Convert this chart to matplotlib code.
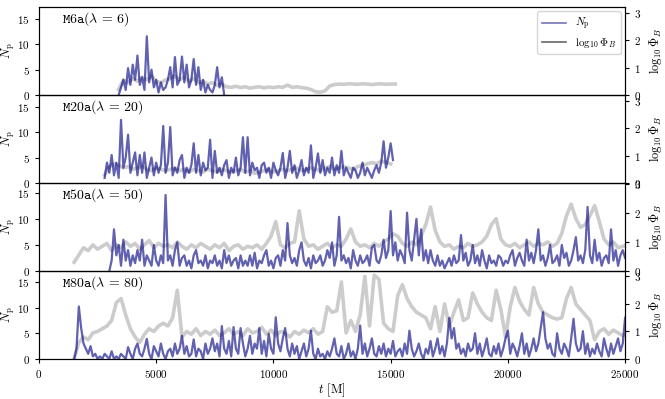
import matplotlib
matplotlib.use("Agg")
import matplotlib.pyplot as plt
from matplotlib.lines import Line2D
import numpy as np

plt.rcParams['font.family'] = 'serif'
plt.rcParams['font.serif'] = ['cmr10']
plt.rcParams['mathtext.fontset'] = 'cm'
plt.rcParams['axes.formatter.use_mathtext'] = True
plt.rcParams['axes.unicode_minus'] = False

# run labels
runs = [r'$\mathtt{M6a}(\lambda\,=\,6)$', r'$\mathtt{M20a}(\lambda\,=\,20)$',
        r'$\mathtt{M50a}(\lambda\,=\,50)$', r'$\mathtt{M80a}(\lambda\,=\,80)$']

# N_p, sampled every 100 M from the start time
np_start = [3400, 2800, 3000, 1500]
np_m6a = [0, 1.5, 3, 1, 5.3, 2, 6, 3, 7.8, 2,
          3.5, 1, 11.6, 2.5, 5, 1.5, 3, 0.5, 2.5, 1,
          1.5, 3, 5.5, 1.5, 7.5, 2, 3, 7.6, 2.5, 6,
          1.5, 3, 7.1, 2, 5.5, 1, 3, 0.5, 2, 1,
          0.5, 2, 5.5, 1.5, 3.5, 0]
np_m20a = [1, 4, 2, 5.5, 1.5, 4, 1, 12.4, 3, 5,
           9.5, 2, 4, 6, 1.5, 5.5, 2, 6, 1, 3,
           5, 1.5, 4, 2, 3.5, 11.2, 2, 4, 11, 1.5,
           3, 2, 4.5, 5.5, 1, 3, 2, 3.5, 7.8, 2,
           5.5, 1.5, 4, 2.5, 3, 8.5, 1, 6.3, 2, 3,
           1.5, 3.5, 4.5, 1, 3, 2, 5, 1.5, 3, 9,
           2, 9, 1.5, 4, 2.5, 3, 1, 3.5, 4, 2,
           3, 1, 4, 2.5, 1.5, 3, 5.9, 1, 3, 6.3,
           2, 3.5, 1, 2.5, 4.5, 1.5, 3, 2, 7.4, 1,
           3, 5.8, 2, 4.5, 1.5, 3, 2, 5, 1.5, 3.5,
           2, 6.3, 1.5, 3, 2, 1, 3, 2.5, 1, 2,
           4, 1.5, 3, 2, 1, 2.5, 3.5, 2, 4, 8.2,
           3, 5, 7.8, 4.5]
np_m50a = [0, 2, 8, 3, 5, 1, 6, 2, 4, 1,
           3, 1.5, 4, 2, 6, 1, 3, 2, 1, 5,
           2, 1, 3, 1.5, 14.6, 2, 3, 1, 4, 5.5,
           1, 2.5, 3, 1, 2, 0.5, 3, 4, 1.5, 2,
           1, 3, 0.5, 2, 1.5, 3, 1, 2, 0.5, 4,
           1.5, 3, 1, 2, 2.5, 0.5, 3, 1, 2, 1,
           3, 1, 3.5, 0.5, 2, 1.5, 3, 4, 1, 2,
           0.5, 2.5, 3, 1, 4, 2, 9.2, 3, 1.5, 2.5,
           1, 4, 5.5, 2, 1, 2.5, 0.5, 3, 1.5, 2,
           3, 1, 2, 4, 2.5, 5.5, 1, 3, 10.4, 2,
           3, 1.5, 2.5, 0.5, 4, 2, 1, 3, 1.5, 2,
           3, 1, 4.5, 5, 2, 1.5, 3, 6, 2.5, 4,
           11.5, 3, 5.5, 2, 4, 3, 1.5, 11.2, 4, 2,
           6, 10, 3, 8, 2, 4, 1.5, 4, 2, 1,
           3, 1, 2, 0.5, 1.5, 2.5, 1, 3, 1.5, 2,
           6.9, 2, 3.5, 1, 2, 5, 1.5, 3, 1, 4,
           2, 0.5, 3, 1.5, 2, 1, 3, 2.5, 1, 2,
           1.5, 3, 4, 1, 2.5, 3.5, 2, 1, 6, 2,
           3.5, 1.5, 4, 8, 2, 3, 1, 2.5, 5, 1.5,
           2, 3, 1, 5, 2.5, 3.5, 1, 2, 4, 6.5,
           2, 3, 1.5, 4, 12.3, 3, 1.5, 6, 2, 3.5,
           1, 2.5, 3, 1.5, 8, 2, 4, 1, 3, 4,
           2.5]
np_m80a = [0, 2, 10.2, 6, 3, 2, 1, 2.5, 0.5, 1,
           0, 0.5, 0, 1, 0.5, 0, 1.5, 0, 0.5, 0,
           1, 0.5, 0, 2.3, 1, 0, 2, 3, 1, 0.5,
           2, 3.9, 1, 0, 2.5, 1.5, 0.5, 3, 1, 0,
           1.5, 2, 0.5, 3, 1, 2, 4.5, 1, 2.5, 0.5,
           1, 3.8, 0.5, 2, 1.5, 0, 3, 1, 2, 4,
           1.5, 3, 0.5, 6.4, 2, 1, 3.5, 0.5, 6.2, 2,
           1, 6, 3, 0.5, 2, 4.5, 1, 3, 2, 6,
           1, 3.5, 0.5, 4.9, 2, 1, 8.1, 3, 1.5, 4,
           6, 2, 0.5, 3, 1, 2.5, 0, 1.5, 3, 0.5,
           2, 5.5, 1, 0, 2, 0.5, 1, 0, 1.5, 0.5,
           2, 4, 1, 0.5, 2.5, 0, 1, 3, 0.5, 1.5,
           0, 2, 6.5, 1, 3, 0.5, 2, 4, 1, 0.5,
           2.5, 1, 3, 0.5, 2, 1, 3.5, 0.5, 1.5, 2,
           0.5, 3, 1, 5.5, 2, 0.5, 1.5, 3, 1, 0,
           2, 1, 3.5, 0.5, 2, 4, 1, 2.5, 0.5, 3,
           8, 4, 6, 2, 3, 1, 2, 0.5, 3, 1.5,
           2, 5, 1, 3, 0.5, 2, 4, 1, 0.5, 2.5,
           1, 3, 0.5, 2, 4, 5.5, 1, 3, 2, 0.5,
           2.5, 5, 1, 3, 0.5, 2, 4, 1.5, 3, 6,
           9.1, 4, 2, 3, 1, 0.5, 5, 2, 1, 3,
           2, 0.5, 4, 7.8, 3, 1.5, 2, 5.4, 1, 3,
           0.5, 2, 1, 3, 1.5, 0.5, 4, 2, 0.5, 3,
           1, 2.5, 4, 1.5, 3, 8]

# log10 Phi_B, sampled every 200 M from the start time
phi_start = [3400, 2800, 1500, 1500]
phi_m6a = [0.2, 0.55, 0.45, 0.6, 0.5, 0.65, 0.55, 0.7, 0.5, 0.45,
           0.55, 0.6, 0.7, 0.55, 0.65, 0.5, 0.6, 0.45, 0.5, 0.4,
           0.45, 0.35, 0.4, 0.3, 0.28, 0.32, 0.27, 0.3, 0.25, 0.28,
           0.3, 0.26, 0.29, 0.27, 0.3, 0.28, 0.36, 0.28, 0.3, 0.27,
           0.25, 0.2, 0.12, 0.1, 0.15, 0.33, 0.38, 0.4, 0.39, 0.41,
           0.4, 0.39, 0.41, 0.4, 0.38, 0.4, 0.41, 0.39, 0.4, 0.4]
phi_m20a = [0.3, 0.6, 0.7, 0.65, 0.55, 0.6, 0.5, 0.55, 0.6, 0.5,
            0.45, 0.55, 0.5, 0.45, 0.5, 0.55, 0.45, 0.5, 0.4, 0.5,
            0.45, 0.4, 0.5, 0.45, 0.4, 0.5, 0.45, 0.4, 0.45, 0.5,
            0.4, 0.45, 0.35, 0.4, 0.45, 0.5, 0.4, 0.45, 0.5, 0.45,
            0.5, 0.55, 0.45, 0.5, 0.55, 0.5, 0.45, 0.55, 0.6, 0.5,
            0.55, 0.6, 0.55, 0.5, 0.6, 0.65, 0.7, 0.75, 0.7, 0.8,
            0.75, 0.7]
phi_m50a = [0.3, 0.55, 0.8, 0.7, 0.9, 0.75, 0.85, 0.95, 0.7, 0.9,
            0.8, 1.0, 0.85, 0.95, 0.75, 0.9, 1.05, 0.8, 0.95, 0.85,
            0.9, 0.8, 1.0, 0.85, 0.75, 0.9, 0.8, 0.95, 0.85, 0.75,
            0.9, 0.8, 0.95, 0.7, 0.85, 0.9, 0.75, 0.85, 0.8, 0.9,
            0.75, 0.95, 1.2, 1.7, 0.9, 0.8, 0.95, 1.0, 2.07, 1.1,
            0.85, 0.9, 0.75, 0.85, 0.95, 0.8, 0.9, 0.85, 1.1, 1.45,
            1.0, 0.85, 0.9, 0.8, 0.95, 0.85, 1.0, 1.1, 1.28, 1.2,
            0.95, 0.85, 1.0, 0.9, 1.2, 1.6, 2.2, 1.4, 1.0, 0.85,
            0.9, 0.75, 0.85, 0.8, 0.95, 0.85, 0.9, 1.0, 1.2, 1.6,
            1.8, 1.1, 0.9, 0.85, 0.95, 0.8, 0.9, 1.0, 0.85, 0.95,
            0.9, 1.0, 0.85, 0.95, 1.3, 1.9, 2.3, 1.8, 1.5, 1.6,
            1.9, 2.25, 1.7, 1.1, 0.9, 1.0, 0.8, 0.85, 0.9]
phi_m80a = [0.0, 0.6, 0.8, 0.7, 0.95, 1.0, 1.1, 1.2, 1.4, 2.05,
            2.2, 1.6, 1.1, 0.8, 0.6, 0.9, 1.1, 1.0, 1.2, 1.3,
            1.2, 1.5, 2.5, 0.8, 1.0, 0.9, 1.1, 0.85, 1.0, 0.9,
            1.05, 0.85, 0.95, 1.1, 0.9, 1.0, 0.85, 1.1, 0.95, 1.0,
            1.15, 0.9, 1.05, 0.85, 1.0, 0.95, 0.8, 1.0, 0.9, 1.05,
            0.95, 1.1, 0.9, 1.0, 1.9, 1.7, 1.75, 2.8, 0.95, 1.4,
            1.0, 1.6, 3.0, 1.2, 3.05, 2.9, 1.3, 1.1, 1.0, 2.3,
            2.7, 2.2, 1.9, 1.7, 1.6, 1.5, 1.1, 1.9, 1.0, 2.0,
            1.2, 1.7, 2.15, 1.4, 1.5, 2.4, 2.0, 1.7, 1.5, 1.4,
            2.5, 1.8, 0.8, 1.9, 2.6, 2.1, 1.8, 1.6, 2.6, 2.0,
            1.7, 1.6, 1.5, 1.45, 1.5, 2.2, 2.6, 2.0, 1.8, 1.6,
            1.4, 0.7, 1.0, 1.1, 0.9, 1.05, 0.95, 0.85, 0.9]

np_all = [np_m6a, np_m20a, np_m50a, np_m80a]
phi_all = [phi_m6a, phi_m20a, phi_m50a, phi_m80a]
np_top = [17.4, 17.3, 16.9, 17.1]
phi_top = [3.22, 3.22, 3.03, 3.2]

fig, axes = plt.subplots(4, 1, figsize=(6.65, 3.99), dpi=100, sharex=True)
fig.subplots_adjust(left=0.0586, right=0.94, top=0.9825, bottom=0.1003, hspace=0)

for i, ax in enumerate(axes):
    ax2 = ax.twinx()
    y = np.array(np_all[i])
    t = np_start[i] + 100 * np.arange(len(y))
    p = np.array(phi_all[i])
    tp = phi_start[i] + 200 * np.arange(len(p))

    ax2.plot(tp, p, color='k', alpha=0.2, lw=2.6)
    ax.plot(t, y, color='navy', alpha=0.62, lw=1.6)
    ax.set_zorder(ax2.get_zorder() + 1)
    ax.patch.set_visible(False)

    ax.set_xlim(0, 25000)
    ax.set_ylim(0, np_top[i])
    ax2.set_ylim(0, phi_top[i])
    ax.set_yticks([0, 5, 10, 15])
    ax2.set_yticks([0, 1, 2, 3])
    ax.tick_params(labelsize=8, length=3)
    ax2.tick_params(labelsize=8, length=3)
    ax.set_ylabel(r'$N_\mathrm{p}$', fontsize=9)
    ax.yaxis.set_label_coords(-0.038, 0.5)
    ax2.set_ylabel(r'$\log_{10}\Phi_B$', fontsize=9)
    ax.text(0.04, 0.865, runs[i], transform=ax.transAxes, fontsize=10, va='center')
    if i < 3:
        ax.tick_params(axis='x', bottom=False)

    if i == 0:
        handles = [Line2D([], [], color='navy', alpha=0.55, lw=1.2),
                   Line2D([], [], color='k', alpha=0.6, lw=1.2)]
        ax.legend(handles, [r'$N_\mathrm{p}$', r'$\log_{10}\Phi_B$'],
                  loc='upper right', fontsize=8, handlelength=2.2,
                  borderaxespad=0.4, labelspacing=0.3)

axes[-1].set_xticks([0, 5000, 10000, 15000, 20000, 25000])
axes[-1].set_xlabel(r'$t$ [M]', fontsize=9, labelpad=1)

plt.savefig('out.png', dpi=100)
